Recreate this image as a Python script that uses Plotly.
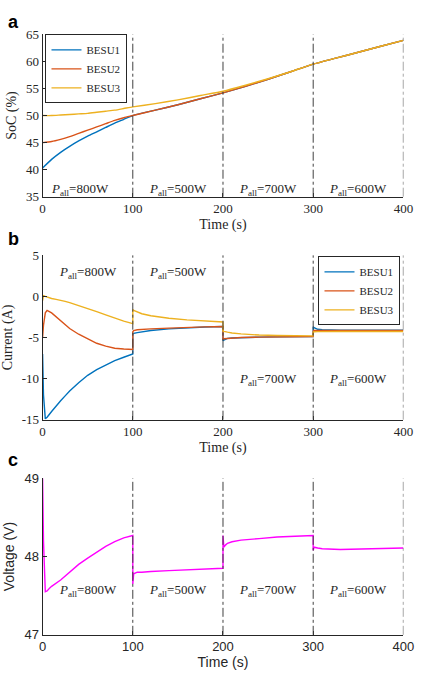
import plotly.graph_objects as go

# ---------------- data ----------------
t_soc = [0, 10, 20, 30, 40, 50, 60, 70, 80, 90, 100, 125, 150, 175, 200, 225, 250, 275, 300, 325, 350, 375, 400]
soc_besu1 = [40.3, 41.9, 43.2, 44.3, 45.3, 46.2, 47.0, 47.8, 48.6, 49.3, 50.0, 51.0, 52.0, 53.1, 54.2, 55.4, 56.7, 58.1, 59.5, 60.6, 61.7, 62.8, 63.9]
soc_besu2 = [45.0, 45.2, 45.6, 46.1, 46.7, 47.3, 47.9, 48.5, 49.1, 49.6, 50.0, 51.0, 52.0, 53.1, 54.2, 55.4, 56.7, 58.1, 59.5, 60.6, 61.7, 62.8, 63.9]
soc_besu3 = [50.0, 50.0, 50.1, 50.2, 50.3, 50.4, 50.6, 50.8, 51.0, 51.3, 51.6, 52.2, 52.9, 53.7, 54.5, 55.6, 56.8, 58.1, 59.5, 60.6, 61.7, 62.8, 63.9]

t_cur = [0, 1, 3, 5, 10, 15, 20, 25, 30, 40, 50, 60, 70, 80, 90, 100,
         100, 101, 105, 110, 120, 140, 160, 180, 200,
         200, 201, 205, 210, 220, 240, 260, 280, 300,
         300, 301, 305, 310, 330, 360, 400]
cur_besu1 = [-7.0, -12.0, -14.9, -14.7, -14.0, -13.3, -12.7, -12.1, -11.5, -10.5, -9.6, -8.9, -8.3, -7.8, -7.4, -7.0,
             -4.6, -4.5, -4.4, -4.3, -4.15, -3.95, -3.8, -3.72, -3.65,
             -5.4, -5.3, -5.1, -5.05, -5.0, -4.95, -4.92, -4.9, -4.88,
             -3.7, -3.8, -4.0, -4.05, -4.1, -4.1, -4.1]
cur_besu2 = [-5.0, -3.5, -2.0, -1.7, -2.0, -2.5, -3.0, -3.5, -3.9, -4.6, -5.2, -5.7, -6.05, -6.3, -6.4, -6.45,
             -4.3, -4.15, -4.05, -4.0, -3.95, -3.85, -3.75, -3.7, -3.65,
             -5.2, -5.15, -5.1, -5.05, -5.0, -4.95, -4.92, -4.9, -4.88,
             -4.2, -4.15, -4.15, -4.15, -4.15, -4.15, -4.15]
cur_besu3 = [-0.5, 0.1, 0.0, -0.1, -0.25, -0.35, -0.45, -0.6, -0.75, -1.1, -1.45, -1.85, -2.25, -2.65, -3.0, -3.3,
             -1.6, -1.7, -1.9, -2.1, -2.35, -2.65, -2.85, -3.0, -3.1,
             -4.2, -4.25, -4.35, -4.45, -4.55, -4.7, -4.75, -4.78, -4.8,
             -4.35, -4.3, -4.28, -4.27, -4.27, -4.27, -4.27]

t_volt = [0, 1, 3, 5, 8, 10, 20, 30, 40, 50, 60, 70, 80, 90, 100,
          100, 101, 105, 110, 120, 140, 160, 180, 200,
          200, 201, 203, 205, 210, 220, 240, 260, 280, 300,
          300, 301, 305, 310, 330, 360, 400]
volt = [49.0, 48.2, 47.55, 47.56, 47.6, 47.62, 47.7, 47.8, 47.9, 47.98, 48.06, 48.13, 48.19, 48.24, 48.27,
        47.65, 47.78, 47.8, 47.8, 47.81, 47.82, 47.83, 47.84, 47.85,
        48.27, 48.12, 48.15, 48.17, 48.19, 48.21, 48.23, 48.25, 48.26, 48.27,
        48.08, 48.12, 48.11, 48.1, 48.09, 48.1, 48.11]

boundaries = [100, 200, 300, 400]
power_labels = ["800W", "500W", "700W", "600W"]
series_names = ["BESU1", "BESU2", "BESU3"]
colors = ["#0072BD", "#D95319", "#EDB120"]
x_ticks = [0, 100, 200, 300, 400]
soc_ticks = [35, 40, 45, 50, 55, 60, 65]
cur_ticks = [-15, -10, -5, 0, 5]
volt_ticks = [47, 48, 49]

# ---------------- figure ----------------
W, H = 425, 679
SERIF = "Liberation Serif, Times New Roman, serif"
SANS = "Liberation Sans, Arial, sans-serif"
INK = "#262626"

def py(px):
    return 1 - px / H

fig = go.Figure()

for name, vals, c in zip(series_names, [soc_besu1, soc_besu2, soc_besu3], colors):
    fig.add_trace(go.Scatter(x=t_soc, y=vals, mode="lines", name=name,
                             line=dict(color=c, width=1.4, shape="spline", smoothing=0.6),
                             xaxis="x", yaxis="y", legend="legend"))
for name, vals, c in zip(series_names, [cur_besu1, cur_besu2, cur_besu3], colors):
    fig.add_trace(go.Scatter(x=t_cur, y=vals, mode="lines", name=name, line=dict(color=c, width=1.4),
                             xaxis="x2", yaxis="y2", legend="legend2"))
fig.add_trace(go.Scatter(x=t_volt, y=volt, mode="lines", name="Voltage", line=dict(color="#FF00FF", width=1.4),
                         xaxis="x3", yaxis="y3", showlegend=False))

xdom = [40 / W, 414 / W]
axis_common = dict(showline=True, linecolor=INK, linewidth=1, ticks="inside", ticklen=4,
                   tickcolor=INK, showgrid=False, zeroline=False, mirror=False)

def xax(anchor, font):
    return dict(domain=xdom, anchor=anchor, range=[0, 400], tickvals=x_ticks,
                tickfont=dict(family=font, size=13, color=INK),
                title=dict(text="Time (s)", font=dict(family=font, size=14, color=INK), standoff=3),
                **axis_common)

def yax(dom, anchor, rng, ticks, title, font):
    return dict(domain=dom, anchor=anchor, range=rng, tickvals=ticks,
                ticktext=[str(v) for v in ticks],
                tickfont=dict(family=font, size=13, color=INK),
                title=dict(text=title, font=dict(family=font, size=14, color=INK), standoff=6),
                **axis_common)

fig.update_layout(
    width=W, height=H, margin=dict(l=0, r=0, t=0, b=0),
    plot_bgcolor="white", paper_bgcolor="white",
    xaxis=xax("y", SERIF),
    xaxis2=xax("y2", SERIF),
    xaxis3=xax("y3", SANS),
    yaxis=yax([py(194), py(28)], "x", [35, 65], soc_ticks, "SoC (%)", SERIF),
    yaxis2=yax([py(422), py(254)], "x2", [-15, 5], cur_ticks, "Current (A)", SERIF),
    yaxis3=yax([py(642), py(482)], "x3", [47, 49], volt_ticks, "Voltage (V)", SANS),
    legend=dict(x=43 / W, y=py(28), xanchor="left", yanchor="top", bgcolor="white",
                bordercolor=INK, borderwidth=1, font=dict(family=SERIF, size=11, color=INK),
                tracegroupgap=0, itemwidth=30),
    legend2=dict(x=411 / W, y=py(255), xanchor="right", yanchor="top", bgcolor="white",
                 bordercolor=INK, borderwidth=1, font=dict(family=SERIF, size=11, color=INK),
                 tracegroupgap=0, itemwidth=30),
)

shapes = []
for xr, yr in [("x", "y"), ("x2", "y2"), ("x3", "y3")]:
    for b in boundaries:
        shapes.append(dict(type="line", xref=xr, yref=yr + " domain", x0=b, x1=b, y0=0, y1=1,
                           line=dict(color="#404040", width=1, dash="dashdot")))
fig.update_layout(shapes=shapes)

annotations = []
mids = [50, 150, 250, 350]
label_y = {
    "y": [py(176)] * 4,
    "y2": [py(272), py(272), py(381), py(381)],
    "y3": [py(607)] * 4,
}
xrefs = {"y": "x", "y2": "x2", "y3": "x3"}
for yk in ["y", "y2", "y3"]:
    for m, p, yy in zip(mids, power_labels, label_y[yk]):
        mx = m - 8 if (yk == "y" and m == 50) else m
        annotations.append(dict(xref=xrefs[yk], yref="paper", x=mx, y=yy, showarrow=False,
                                text="<i>P</i><sub>all</sub>=" + p,
                                font=dict(family=SERIF, size=13, color=INK)))
for letter, yy in [("a", 15), ("b", 237), ("c", 463)]:
    annotations.append(dict(xref="paper", yref="paper", x=2 / W, y=py(yy), xanchor="left", yanchor="middle",
                            showarrow=False, text="<b>" + letter + "</b>",
                            font=dict(family=SANS, size=18, color="black")))
fig.update_layout(annotations=annotations)

fig.write_html("out.html")
